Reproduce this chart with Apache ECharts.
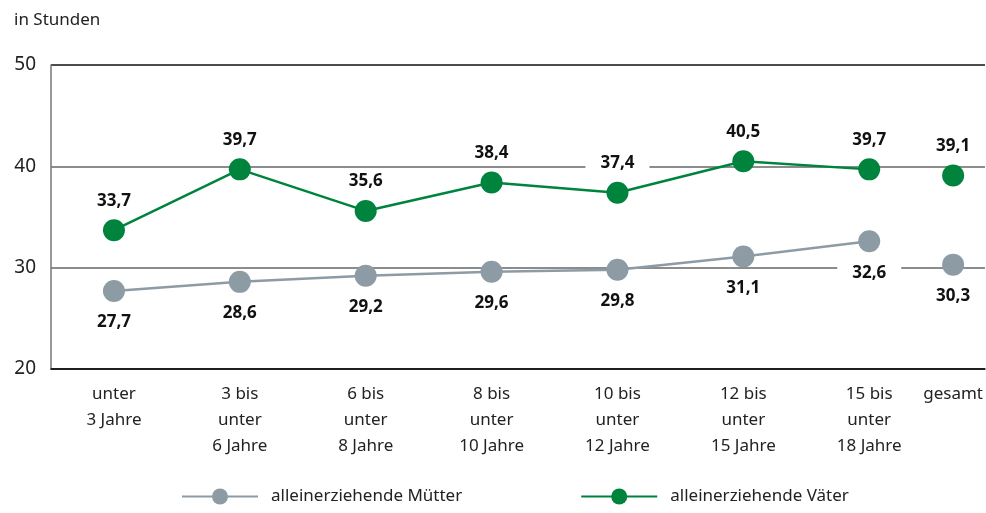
<!DOCTYPE html>
<html>
<head>
<meta charset="utf-8">
<script src="https://cdn.jsdelivr.net/npm/echarts@6/dist/echarts.min.js"></script>
<style>
  html, body { margin: 0; padding: 0; background: #fff; }
  #chart { width: 986px; height: 513px; }
</style>
</head>
<body>
<div id="chart"></div>
<script>
const categories = ['unter\n3 Jahre', '3 bis\nunter\n6 Jahre', '6 bis\nunter\n8 Jahre', '8 bis\nunter\n10 Jahre',
    '10 bis\nunter\n12 Jahre', '12 bis\nunter\n15 Jahre', '15 bis\nunter\n18 Jahre', 'gesamt'];
const muetter = [27.7, 28.6, 29.2, 29.6, 29.8, 31.1, 32.6, 30.3];
const vaeter = [33.7, 39.7, 35.6, 38.4, 37.4, 40.5, 39.7, 39.1];
const yTicks = [20, 30, 40, 50];

const GREY = '#8d9ba5';
const GREEN = '#00843d';
const FONT = 'Noto Sans';

// the "gesamt" column sits closer to the last age group
function slot(i) {
    return i < categories.length - 1 ? i : i - 1 + 2 / 3;
}
const slots = categories.map((c, i) => slot(i));

function fmt(v) {
    return v.toFixed(1).replace('.', ',');
}

function points(values, from, to) {
    let out = [];
    for (let i = from; i < to; i++) out.push([slots[i], values[i]]);
    return out;
}

function makeSeries(name, color, values, pos, dist) {
    let n = values.length;
    let label = {
        show: true,
        position: pos,
        distance: dist,
        formatter: p => fmt(p.value[1]),
        fontFamily: FONT,
        fontSize: 17,
        fontWeight: 'bold',
        color: '#111',
        backgroundColor: '#fff',
        padding: [1, 15]
    };
    return [
        {
            name: name,
            type: 'line',
            data: points(values, 0, n - 1),
            symbol: 'circle',
            symbolSize: 22,
            lineStyle: { color: color, width: 2.5 },
            itemStyle: { color: color, opacity: 1 },
            label: label,
            z: 3
        },
        {
            name: name + ' gesamt',
            type: 'scatter',
            data: points(values, n - 1, n),
            symbol: 'circle',
            symbolSize: 22,
            itemStyle: { color: color, opacity: 1 },
            label: label,
            z: 3
        }
    ];
}

let chart = echarts.init(document.getElementById('chart'));

let option = {
    animation: false,
    title: {
        text: 'in Stunden',
        left: 9,
        top: 7,
        textStyle: { fontFamily: FONT, fontSize: 17, fontWeight: 'normal', color: '#222' }
    },
    grid: { left: 51, right: 0, top: 65, bottom: 144 },
    legend: {
        data: ['alleinerziehende Mütter', 'alleinerziehende Väter'],
        left: 176,
        bottom: 3,
        itemWidth: 76,
        itemHeight: 20,
        itemGap: 118,
        textStyle: { fontFamily: FONT, fontSize: 17, color: '#222', padding: [0, 0, 0, 8] }
    },
    xAxis: {
        type: 'value',
        min: -0.5,
        max: 6.92,
        splitLine: { show: false },
        axisTick: { show: false },
        axisLine: { show: true, onZero: false, lineStyle: { color: '#111', width: 1.5 } },
        axisLabel: {
            customValues: slots,
            formatter: v => {
                let i = slots.findIndex(s => Math.abs(s - v) < 1e-6);
                return i < 0 ? '' : categories[i];
            },
            margin: 12,
            fontFamily: FONT,
            fontSize: 17,
            lineHeight: 26,
            color: '#222',
            verticalAlign: 'top'
        }
    },
    yAxis: {
        type: 'value',
        min: yTicks[0],
        max: yTicks[yTicks.length - 1],
        interval: 10,
        axisLine: { show: true, onZero: false, lineStyle: { color: '#777', width: 1.5 } },
        axisTick: { show: false },
        splitLine: { lineStyle: { color: ['#111', '#666', '#666', '#111'], width: 1.5 } },
        axisLabel: { margin: 15, fontFamily: FONT, fontSize: 19, color: '#222' }
    },
    series: [
        ...makeSeries('alleinerziehende Mütter', GREY, muetter, 'bottom', 11),
        ...makeSeries('alleinerziehende Väter', GREEN, vaeter, 'top', 9)
    ]
};

chart.setOption(option);
</script>
</body>
</html>
